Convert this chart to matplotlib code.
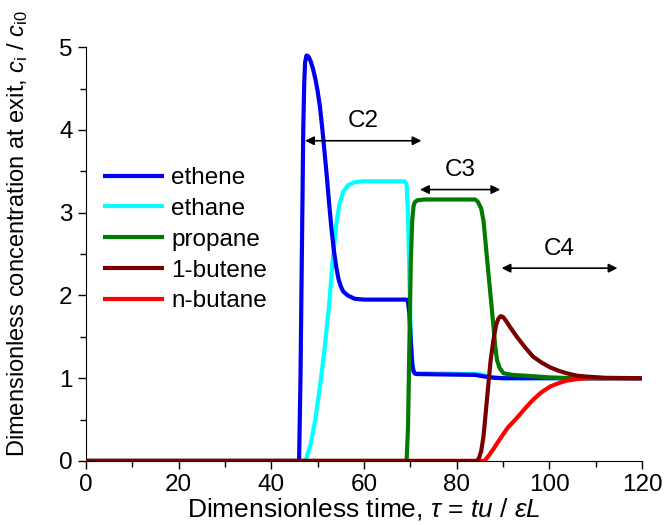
import matplotlib
matplotlib.use('Agg')
import matplotlib.pyplot as plt

plt.rcParams['font.family'] = ['Liberation Sans', 'DejaVu Sans']
plt.rcParams['mathtext.fontset'] = 'custom'
plt.rcParams['mathtext.rm'] = 'Liberation Sans'
plt.rcParams['mathtext.it'] = 'Liberation Sans:italic'

# exit concentrations (tau, c/c0)
ethene_t = [0, 46.0, 46.3, 46.6, 46.9, 47.1, 47.3, 47.6, 48.0, 48.5, 49.0, 49.5, 50.0, 50.5, 51.0,
            51.5, 52.0, 52.5, 53.0, 53.5, 54.0, 54.5, 55.0, 55.5, 56.5, 58, 60, 69.2, 69.5, 69.8,
            70.1, 70.4, 70.7, 71.0, 71.5, 84, 86, 88, 90, 120]
ethene_c = [0, 0, 1.0, 2.5, 4.0, 4.55, 4.82, 4.9, 4.89, 4.83, 4.74, 4.62, 4.47, 4.28, 4.02,
            3.73, 3.43, 3.1, 2.8, 2.55, 2.35, 2.2, 2.11, 2.05, 2.0, 1.96, 1.95, 1.95, 1.92, 1.78,
            1.45, 1.18, 1.08, 1.055, 1.05, 1.04, 1.02, 1.005, 1.0, 1.0]

ethane_t = [0, 47.4, 48.5, 49.5, 50.5, 51.5, 52.5, 53.3, 54.0, 54.7, 55.5, 56.5, 58, 60, 68.8,
            69.2, 69.5, 69.8, 70.1, 70.5, 71.0, 85, 87, 90, 120]
ethane_c = [0, 0, 0.2, 0.5, 0.9, 1.35, 1.9, 2.45, 2.85, 3.1, 3.25, 3.33, 3.37, 3.38, 3.38,
            3.34, 3.0, 2.2, 1.5, 1.12, 1.06, 1.05, 1.02, 1.0, 1.0]

propane_t = [0, 69.2, 69.5, 69.8, 70.1, 70.4, 70.7, 71.0, 71.5, 73, 84.0, 84.6, 85.3, 85.8, 86.3,
             86.8, 87.4, 87.9, 88.3, 88.7, 89.3, 90.1, 92, 95, 100, 105, 120]
propane_c = [0, 0, 0.4, 1.4, 2.4, 2.9, 3.08, 3.13, 3.15, 3.16, 3.16, 3.13, 3.05, 2.9, 2.6,
             2.3, 1.95, 1.65, 1.4, 1.22, 1.12, 1.06, 1.04, 1.03, 1.01, 1.0, 1.0]

butene_t = [0, 84.3, 84.8, 85.3, 85.8, 86.3, 86.8, 87.3, 87.9, 88.5, 89.0, 89.5, 90.0, 90.7, 91.5,
            93, 94.8, 96.5, 98.3, 100.2, 102, 103.7, 106, 108, 112, 120]
butene_c = [0, 0, 0.03, 0.12, 0.3, 0.6, 0.9, 1.2, 1.45, 1.64, 1.72, 1.75, 1.74, 1.69, 1.62,
            1.5, 1.37, 1.26, 1.19, 1.13, 1.09, 1.06, 1.03, 1.02, 1.005, 1.0]

butane_t = [0, 86.0, 87.0, 88.0, 89.4, 91, 93, 95, 96.5, 98.3, 100.2, 102, 103.7, 106, 108, 120]
butane_c = [0, 0, 0.07, 0.15, 0.27, 0.4, 0.52, 0.65, 0.74, 0.83, 0.9, 0.94, 0.97, 0.99, 1.0, 1.0]

# breakthrough ranges marked with arrows
group_names = ['C2', 'C3', 'C4']
group_start = [47.3, 72.1, 89.7]
group_end = [72.4, 89.4, 114.7]
group_level = [3.87, 3.28, 2.33]

fig = plt.figure(figsize=(6.66, 5.25), dpi=100)
ax = fig.add_axes([0.129, 0.122, 0.835, 0.788])

style = dict(lw=3.0, solid_joinstyle='round', solid_capstyle='butt')
ax.plot(ethane_t, ethane_c, color='#00ffff', label='ethane', zorder=2, **style)
ax.plot(ethene_t, ethene_c, color='#0000ee', label='ethene', zorder=3, **style)
ax.plot(propane_t, propane_c, color='#007a00', label='propane', zorder=4, **style)
ax.plot(butane_t, butane_c, color='#ff0000', label='n-butane', zorder=5, **style)
ax.plot(butene_t, butene_c, color='#7a0000', label='1-butene', zorder=6, **style)

for name, x0, x1, y in zip(group_names, group_start, group_end, group_level):
    ax.annotate('', xy=(x1, y), xytext=(x0, y),
                arrowprops=dict(arrowstyle='<|-|>', color='black', lw=1.2,
                                mutation_scale=13, shrinkA=0, shrinkB=0))
    ax.text((x0 + x1) / 2, y + 0.1, name, ha='center', va='bottom', fontsize=17.5)

handles, labels = ax.get_legend_handles_labels()
order = ['ethene', 'ethane', 'propane', '1-butene', 'n-butane']
hmap = dict(zip(labels, handles))
ax.legend([hmap[k] for k in order], order, loc='upper left', bbox_to_anchor=(0.031, 0.71),
          frameon=False, fontsize=17.5, handlelength=2.5, handletextpad=0.3,
          labelspacing=0.36, borderpad=0, borderaxespad=0)

ax.set_xlim(0, 120)
ax.set_ylim(0, 5)
ax.set_xticks(range(0, 121, 20))
ax.set_xticks(range(10, 120, 20), minor=True)
ax.set_yticks(range(0, 6))
ax.set_yticks([0.5, 1.5, 2.5, 3.5, 4.5], minor=True)
ax.spines['top'].set_visible(False)
ax.spines['right'].set_visible(False)
ax.tick_params(which='major', direction='out', length=6, width=1, labelsize=17.5)
ax.tick_params(which='minor', direction='out', length=4, width=1)

ax.set_xlabel(r'Dimensionless time, $\tau$ = $tu$ / $\varepsilon L$', fontsize=19)
ax.set_ylabel(r'Dimensionless concentration at exit, $c_\mathrm{i}$ / $c_\mathrm{i0}$', fontsize=17)
ax.xaxis.set_label_coords(0.5, -0.085, transform=ax.transAxes)
ax.yaxis.set_label_coords(-0.1, 0.55, transform=ax.transAxes)

plt.savefig('out.png', dpi=100)
